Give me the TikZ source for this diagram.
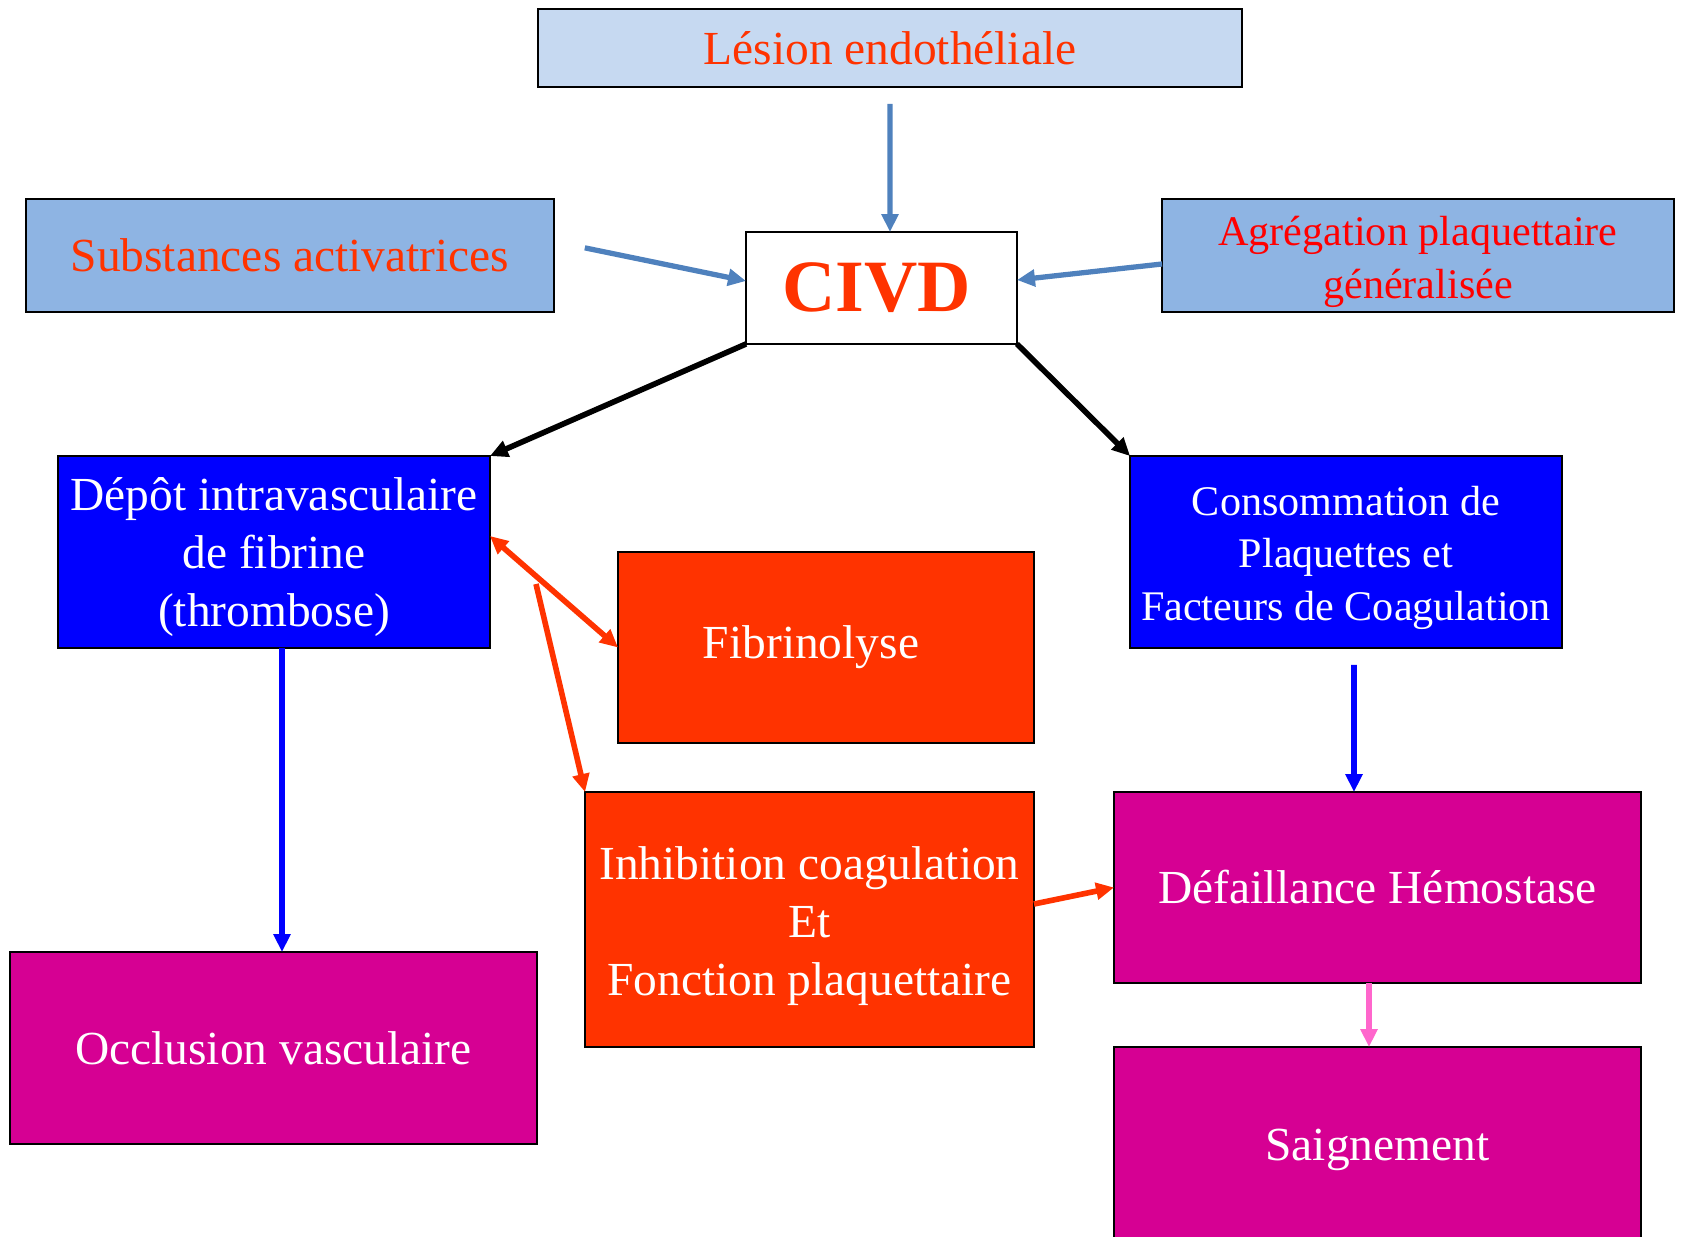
\documentclass[tikz,border=0pt]{standalone}
\usepackage{fontspec}
\setmainfont{Liberation Serif}
\usetikzlibrary{arrows.meta, calc}

\definecolor{paleblue}{HTML}{C6D9F1}
\definecolor{midblue}{HTML}{8EB4E3}
\definecolor{steel}{HTML}{4F81BD}
\definecolor{redorange}{HTML}{FF3300}
\definecolor{purered}{HTML}{FF0000}
\definecolor{deepblue}{HTML}{0000FF}
\definecolor{magenta2}{HTML}{D60093}
\definecolor{pinkarrow}{HTML}{FF66CC}

\begin{document}
\begin{tikzpicture}[
  x=0.02cm, y=-0.02cm,
  box/.style={rectangle, draw, line width=1.2pt, inner sep=0pt, outer sep=0pt,
              align=center, font=\fontsize{27}{33}\selectfont},
  topbox/.style={box, fill=paleblue, text=redorange},
  srcbox/.style={box, fill=midblue},
  civdbox/.style={box, fill=white, text=redorange,
                  font=\fontsize{42}{48}\selectfont\bfseries},
  causebox/.style={box, fill=deepblue, text=white},
  redbox/.style={box, fill=redorange, text=white},
  outbox/.style={box, fill=magenta2, text=white},
  tip/.style={-{Triangle[length=0.36cm, width=0.33cm]}},
  steelarr/.style={tip, draw=steel, fill=steel, line width=3pt},
  blackarr/.style={tip, draw=black, line width=3.2pt},
  bluearr/.style={tip, draw=deepblue, line width=3.2pt},
  redarr/.style={tip, draw=redorange, line width=3.2pt},
  pinkarr/.style={tip, draw=pinkarrow, line width=3pt}
]
  \useasboundingbox (0,0) rectangle (1681,1237);

  % top row
  \node[topbox, minimum width=14.08cm, minimum height=1.56cm] (lesion) at (890,48) {L\'esion endoth\'eliale};
  \node[civdbox, minimum width=5.42cm, minimum height=2.24cm] (civd) at (881.5,288) {CIVD\kern0.2cm};
  \node[srcbox, text=redorange, minimum width=10.56cm, minimum height=2.26cm] (subst) at (290,255.5) {Substances activatrices};
  \node[srcbox, text=purered, minimum width=10.24cm, minimum height=2.26cm,
        font=\fontsize{24}{30}\selectfont] (agreg) at (1418,255.5) {\rule{0pt}{24pt}Agr\'egation plaquettaire\\g\'en\'eralis\'ee};

  % middle
  \node[causebox, minimum width=8.64cm, minimum height=3.84cm] (depot) at (274,552) {\rule{0pt}{25pt}D\'ep\^ot intravasculaire\\de fibrine\\(thrombose)};
  \node[causebox, minimum width=8.64cm, minimum height=3.84cm,
        font=\fontsize{24}{30}\selectfont] (conso) at (1346,552) {\rule{0pt}{23.3pt}Consommation de\\Plaquettes et\\Facteurs de Coagulation};
  \node[redbox, minimum width=8.32cm, minimum height=3.82cm] (fibrino) at (826,647.5) {Fibrinolyse\kern0.6cm};
  \node[redbox, minimum width=8.98cm, minimum height=5.10cm] (inhib) at (809.5,919.5) {\rule{0pt}{26.7pt}Inhibition coagulation\\Et\\Fonction plaquettaire};

  % outcomes
  \node[outbox, minimum width=10.54cm, minimum height=3.82cm] (defail) at (1377.5,887.5) {D\'efaillance H\'emostase};
  \node[outbox, minimum width=10.54cm, minimum height=3.84cm] (occl) at (273.5,1048) {Occlusion vasculaire};
  \node[outbox, minimum width=10.54cm, minimum height=4.12cm] (saign) at (1377.5,1150) {Saignement};

  \coordinate (split) at (536,584);

  % edges
  \draw[steelarr, shorten <=0.34cm] (lesion.south) -- ([xshift=0.17cm]civd.north);
  \draw[steelarr, shorten <=0.63cm] ([yshift=0.28cm]subst.east) -- ([yshift=0.14cm]civd.west);
  \draw[steelarr] ([yshift=-0.17cm]agreg.west) -- ([yshift=0.16cm]civd.east);
  \draw[blackarr] (civd.south west) -- (depot.north east);
  \draw[blackarr] (civd.south east) -- (conso.north west);
  \draw[redarr, {Triangle[length=0.36cm, width=0.33cm]}-{Triangle[length=0.36cm, width=0.33cm]}]
        ([yshift=0.32cm]depot.east) -- (fibrino.west);
  \draw[redarr] (split) -- (inhib.north west);
  \draw[bluearr] ([xshift=0.16cm]depot.south) -- ([xshift=0.17cm]occl.north);
  \draw[bluearr, shorten <=0.34cm] ([xshift=0.16cm]conso.south) -- ([xshift=-0.47cm]defail.north);
  \draw[redarr] ([yshift=0.31cm]inhib.east) -- (defail.west);
  \draw[pinkarr] ([xshift=-0.17cm]defail.south) -- ([xshift=-0.17cm]saign.north);
\end{tikzpicture}
\end{document}
